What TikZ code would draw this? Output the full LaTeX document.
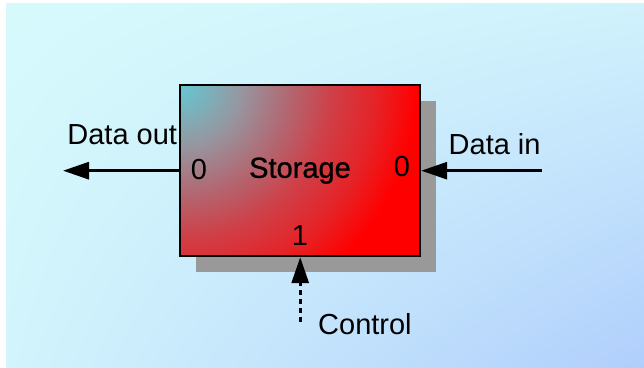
\documentclass[tikz,border=0pt]{standalone}
\usepackage{fontspec}
\setmainfont{Liberation Sans}
\newfontfamily\heavierface[FakeBold=0.9]{Liberation Sans}
\usetikzlibrary{arrows.meta,shadings}

\definecolor{bgA}{RGB}{214,250,252}
\definecolor{bgB}{RGB}{208,242,252}
\definecolor{bgC}{RGB}{210,244,252}
\definecolor{bgD}{RGB}{176,206,252}
\definecolor{shadowgray}{RGB}{153,153,153}
\definecolor{tealc}{RGB}{100,200,210}
\definecolor{midc}{RGB}{150,150,160}
\definecolor{mauve}{RGB}{180,100,110}
\definecolor{brick}{RGB}{208,62,70}
\definecolor{scarlet}{RGB}{228,36,40}
\definecolor{redc}{RGB}{255,0,0}

% radial fill of the storage block, centred on its top-left corner
\pgfdeclareradialshading{storagefill}{\pgfpoint{0bp}{0bp}}{%
  color(0bp)=(tealc); color(5.2bp)=(midc); color(9.5bp)=(mauve);
  color(13bp)=(brick); color(16.5bp)=(scarlet); color(20bp)=(redc);
  color(50bp)=(redc)}

\tikzset{
  lbl/.style={font=\fontsize{14.5}{17}\selectfont, inner sep=0pt, anchor=base},
  lblw/.style={lbl, anchor=base west},
  blockbox/.style={draw=black, line width=1pt, minimum width=120pt,
    minimum height=85.5pt, inner sep=0pt},
  flow/.style={line width=1.5pt, -{Triangle[length=13pt,width=8.5pt]}},
  ctrlflow/.style={flow, dash pattern=on 2.5pt off 2pt},
}

\begin{document}
\begin{tikzpicture}[x=0.5pt, y=-0.5pt]
  \useasboundingbox (0,0) rectangle (644,368);
  % backdrop
  \shade[upper left=bgA, upper right=bgB, lower left=bgC, lower right=bgD]
    (6,4) rectangle (644,368);

  % block with its drop shadow
  \node[blockbox, draw=none, fill=shadowgray] (shadowbox) at (316.3,186.7) {};
  \node[blockbox, path picture={
      \shade[shading=storagefill]
        (path picture bounding box.north west) circle (295);
    }] (storage) at (300.2,170.7) {};
  \node[lbl, font=\fontsize{14.5}{17}\selectfont\heavierface] (storagelabel) at (300,177.8) {Storage};

  % port numbers
  \node[lbl] (portout) at (199,179.3) {0};
  \node[lbl] (portin) at (402,176.2) {0};
  \node[lbl] (portctrl) at (300,245.7) {1};

  % signal names
  \node[lblw] (dataout) at (67,144.3) {Data out};
  \node[lblw] (datain) at (448.3,155) {Data in};
  \node[lblw] (control) at (317.8,335) {Control};

  % free ends of the connectors
  \coordinate (outend) at (63,170.7);
  \coordinate (inend) at (542,170.7);
  \coordinate (ctrlend) at (300.2,322);

  \draw[flow] (storage.west) -- (outend);
  \draw[flow] (inend) -- (storage.east);
  \draw[ctrlflow] (ctrlend) -- (storage.south);
\end{tikzpicture}
\end{document}
